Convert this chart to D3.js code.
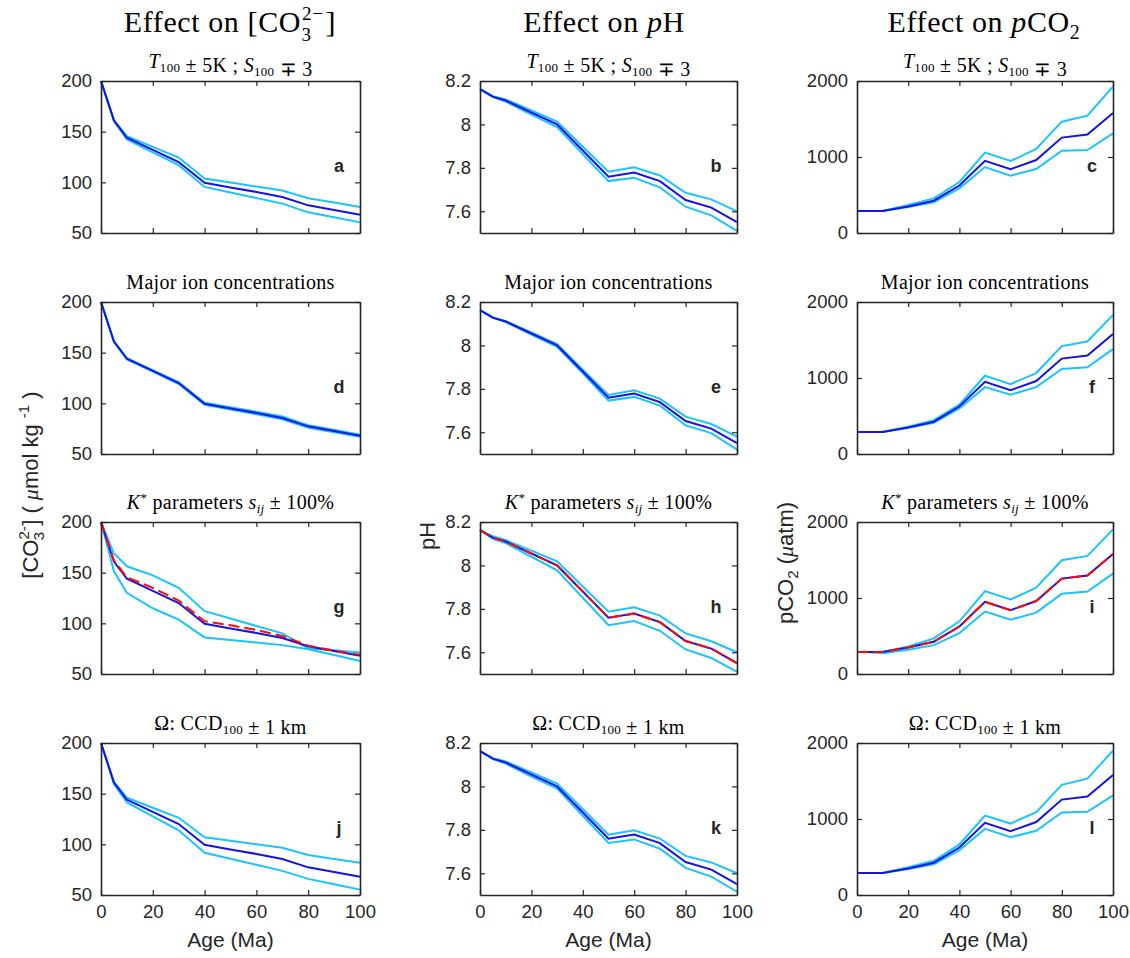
<!DOCTYPE html>
<html>
<head>
<meta charset="utf-8">
<script src="https://cdn.jsdelivr.net/npm/d3@7"></script>
<style>
  body { margin: 0; background: #fff; }
  svg text { fill: #262626; }
  .tick text { font-family: "Liberation Sans", Arial, sans-serif; font-size: 18.5px; }
  .ttl { font-family: "Liberation Serif", serif; fill: #000; }
</style>
</head>
<body>
<svg id="fig" width="1130" height="958"></svg>
<script>
"use strict";

// ages (Ma)
var ages = [0, 5, 10, 20, 30, 40, 50, 60, 70, 80, 90, 100];

// [CO3 2-] (umol/kg)
var co3Mid   = [200, 161, 144, 132, 120, 99.5, 95, 90.5, 85.6, 77.3, 72.7, 68];
var co3A_hi  = [200, 161.5, 145.6, 135, 124.5, 103.7, 99.8, 95.9, 91.9, 84.3, 80, 75.7];
var co3A_lo  = [200, 160.5, 142.3, 129.6, 116.9, 95.5, 90, 84.5, 79, 70.4, 65.5, 60.5];
var co3D_hi  = [200, 161.2, 144.6, 132.8, 121, 100.6, 96.2, 91.8, 87, 78.5, 74, 69];
var co3D_lo  = [200, 160.8, 143.4, 131.2, 119, 98.5, 93.8, 89.2, 84.2, 76, 71.4, 67];
var co3G_hi  = [200, 168.9, 156.3, 147.4, 135.1, 112, 104.7, 97.4, 90.1, 75.5, 73.4, 71.2];
var co3G_lo  = [200, 151.3, 130.1, 114.9, 103.6, 86.1, 83.6, 81, 78.5, 74.5, 68.7, 62.9];
var co3G_red = [200, 162, 145.5, 135, 122.5, 102, 98, 93.5, 87.5, 78, 73, 69];
var co3J_hi  = [200, 161.6, 146, 136.1, 126.2, 107, 103.6, 100.1, 96.7, 89.4, 85.6, 81.8];
var co3J_lo  = [200, 159.6, 141.4, 127.6, 113.9, 91.7, 85.7, 79.8, 73.8, 65.9, 60.6, 55.3];

// pH
var phMid   = [8.163, 8.128, 8.11, 8.055, 8.0, 7.88, 7.759, 7.778, 7.739, 7.652, 7.617, 7.55];
var phB_hi  = [8.163, 8.13, 8.115, 8.065, 8.013, 7.897, 7.782, 7.803, 7.765, 7.685, 7.655, 7.60];
var phB_lo  = [8.163, 8.126, 8.105, 8.045, 7.988, 7.863, 7.739, 7.754, 7.71, 7.621, 7.581, 7.51];
var phE_hi  = [8.163, 8.129, 8.112, 8.06, 8.006, 7.888, 7.772, 7.793, 7.755, 7.672, 7.638, 7.58];
var phE_lo  = [8.163, 8.127, 8.108, 8.05, 7.994, 7.872, 7.746, 7.763, 7.723, 7.632, 7.596, 7.52];
var phH_hi  = [8.163, 8.134, 8.117, 8.068, 8.019, 7.903, 7.787, 7.807, 7.769, 7.687, 7.651, 7.60];
var phH_lo  = [8.163, 8.122, 8.103, 8.04, 7.977, 7.851, 7.725, 7.744, 7.699, 7.613, 7.574, 7.51];
var phK_hi  = [8.163, 8.13, 8.115, 8.065, 8.013, 7.895, 7.778, 7.798, 7.76, 7.68, 7.65, 7.60];
var phK_lo  = [8.163, 8.126, 8.105, 8.045, 7.99, 7.865, 7.74, 7.756, 7.713, 7.625, 7.585, 7.515];

// pCO2 (uatm)
var pcoMid  = [290, 290, 290, 350, 425, 625, 950, 840, 960, 1255, 1295, 1580];
var pcoC_hi = [290, 290, 290, 368, 456, 671, 1057, 947, 1105, 1465, 1544, 1925];
var pcoC_lo = [290, 290, 290, 342, 403, 588, 868, 754, 842, 1083, 1092, 1311];
var pcoF_hi = [290, 290, 290, 360, 445, 650, 1030, 920, 1065, 1420, 1480, 1830];
var pcoF_lo = [290, 290, 290, 345, 410, 600, 880, 780, 880, 1120, 1140, 1380];
var pcoI_hi = [290, 290, 291, 362, 468, 693, 1090, 980, 1135, 1497, 1554, 1903];
var pcoI_lo = [290, 285, 274, 318, 380, 539, 821, 715, 808, 1055, 1086, 1320];
var pcoL_hi = [290, 290, 290, 365, 450, 665, 1045, 940, 1090, 1450, 1530, 1900];
var pcoL_lo = [290, 290, 290, 342, 405, 590, 870, 760, 845, 1085, 1095, 1310];

var xTicks = [0, 20, 40, 60, 80, 100];
var co3Ticks = [50, 100, 150, 200];
var phTicks = [7.6, 7.8, 8, 8.2];
var pcoTicks = [0, 1000, 2000];
var letters = ["a", "b", "c", "d", "e", "f", "g", "h", "i", "j", "k", "l"];

var colLeft = [101, 480, 857], colW = [259, 257, 256];
var rowTop = [81, 302, 522, 743], rowH = 152;

var CYAN = "#1ac4ff", BLUE = "#1414e6", RED = "#ff0a0a", AX = "#262626";

var cols = [
  { dom: [50, 200], ticks: co3Ticks, fmt: d3.format("d"),
    mid: co3Mid, sets: [[co3A_hi, co3A_lo], [co3D_hi, co3D_lo], [co3G_hi, co3G_lo], [co3J_hi, co3J_lo]], red: co3G_red },
  { dom: [7.5, 8.2], ticks: phTicks, fmt: function (d) { return String(+d.toFixed(1)); },
    mid: phMid, sets: [[phB_hi, phB_lo], [phE_hi, phE_lo], [phH_hi, phH_lo], [phK_hi, phK_lo]], red: phMid },
  { dom: [0, 2000], ticks: pcoTicks, fmt: d3.format("d"),
    mid: pcoMid, sets: [[pcoC_hi, pcoC_lo], [pcoF_hi, pcoF_lo], [pcoI_hi, pcoI_lo], [pcoL_hi, pcoL_lo]], red: pcoMid }
];

var svg = d3.select("#fig");

// subtitle builders (LaTeX-like with tspans)
function sub(t, s) { t.append("tspan").attr("font-size", "13px").attr("dy", 4).text(s); t.append("tspan").attr("dy", -4).text(""); }
var subtitles = [
  function (t) {
    t.append("tspan").attr("font-style", "italic").text("T"); sub(t, "100");
    t.append("tspan").text(" \u00b1 5K ; ");
    t.append("tspan").attr("font-style", "italic").text("S"); sub(t, "100");
    t.append("tspan").text(" \u2213 3");
  },
  function (t) { t.text("Major ion concentrations"); },
  function (t) {
    t.append("tspan").attr("font-style", "italic").text("K");
    t.append("tspan").attr("font-size", "13px").attr("dy", -7).text("*");
    t.append("tspan").attr("dy", 7).text(" parameters ");
    t.append("tspan").attr("font-style", "italic").text("s");
    t.append("tspan").attr("font-size", "13px").attr("font-style", "italic").attr("dy", 4).text("ij");
    t.append("tspan").attr("dy", -4).text(" \u00b1 100%");
  },
  function (t) {
    t.append("tspan").text("\u03a9:  CCD"); sub(t, "100");
    t.append("tspan").text(" \u00b1 1 km");
  }
];

cols.forEach(function (c, ci) {
  var x = d3.scaleLinear().domain([0, 100]).range([0, colW[ci]]);
  var y = d3.scaleLinear().domain(c.dom).range([rowH, 0]);
  var line = d3.line().x(function (d, i) { return x(ages[i]); }).y(function (d) { return y(d); });

  rowTop.forEach(function (top, ri) {
    var g = svg.append("g").attr("transform", "translate(" + colLeft[ci] + "," + top + ")");

    // series
    c.sets[ri].forEach(function (s) {
      g.append("path").datum(s).attr("d", line).attr("fill", "none")
        .attr("stroke", CYAN).attr("stroke-width", 2);
    });
    g.append("path").datum(c.mid).attr("d", line).attr("fill", "none")
      .attr("stroke", BLUE).attr("stroke-width", 2);
    if (ri === 2) {
      g.append("path").datum(c.red).attr("d", line).attr("fill", "none")
        .attr("stroke", RED).attr("stroke-width", 2).attr("stroke-dasharray", "11,5");
    }

    // axes (box with inward ticks)
    var xb = g.append("g").attr("transform", "translate(0," + rowH + ")")
      .call(d3.axisBottom(x).tickValues(xTicks).tickSizeInner(-5).tickSizeOuter(0).tickPadding(10));
    if (ri < 3) xb.selectAll("text").remove();
    g.append("g").call(d3.axisTop(x).tickValues(xTicks).tickSizeInner(-5).tickSizeOuter(0).tickFormat(""));
    g.append("g").call(d3.axisLeft(y).tickValues(c.ticks).tickFormat(c.fmt).tickSizeInner(-5).tickSizeOuter(0).tickPadding(9));
    g.append("g").attr("transform", "translate(" + colW[ci] + ",0)")
      .call(d3.axisRight(y).tickValues(c.ticks).tickSizeInner(-5).tickSizeOuter(0).tickFormat(""));
    g.selectAll(".domain").attr("stroke", AX).attr("stroke-width", 1.6);
    g.selectAll(".tick line").attr("stroke", AX).attr("stroke-width", 1.2);
    g.selectAll(".tick text").attr("fill", AX);

    // panel letter
    g.append("text").attr("x", colW[ci] - 21).attr("y", 91)
      .attr("text-anchor", "middle").attr("font-family", "Liberation Sans, Arial, sans-serif")
      .attr("font-weight", "bold").attr("font-size", "18px").attr("fill", "#000")
      .text(letters[ri * 3 + ci]);

    // subtitle
    var t = g.append("text").attr("class", "ttl").attr("x", colW[ci] / 2).attr("y", -13)
      .attr("text-anchor", "middle").attr("font-size", "20px").attr("letter-spacing", "0.3px");
    subtitles[ri](t);
  });

  // x label
  svg.append("text").attr("x", colLeft[ci] + colW[ci] / 2).attr("y", 947)
    .attr("text-anchor", "middle").attr("font-family", "Liberation Sans, Arial, sans-serif")
    .attr("font-size", "21px").text("Age (Ma)");
});

// column titles
function colTitle(cx) {
  return svg.append("text").attr("class", "ttl").attr("x", cx).attr("y", 32)
    .attr("text-anchor", "middle").attr("font-size", "30px").attr("letter-spacing", "0.6px");
}
var t1 = colTitle(230);
t1.append("tspan").text("Effect on [CO");
t1.append("tspan").attr("font-size", "19px").attr("dx", 1).attr("dy", -12).text("2\u2212");
t1.append("tspan").attr("font-size", "19px").attr("dx", -22).attr("dy", 21).text("3");
t1.append("tspan").attr("dx", 14).attr("dy", -9).text("]");
var t2 = colTitle(604);
t2.append("tspan").text("Effect on ");
t2.append("tspan").attr("font-style", "italic").text("p");
t2.append("tspan").text("H");
var t3 = colTitle(984);
t3.append("tspan").text("Effect on ");
t3.append("tspan").attr("font-style", "italic").text("p");
t3.append("tspan").text("CO");
t3.append("tspan").attr("font-size", "20px").attr("dy", 7).text("2");

// y labels
var yl1 = svg.append("text").attr("transform", "translate(38,485) rotate(-90)").attr("text-anchor", "middle")
  .attr("font-family", "Liberation Sans, Arial, sans-serif").attr("font-size", "22px");
yl1.append("tspan").text("[CO");
yl1.append("tspan").attr("font-size", "15px").attr("dy", -9).text("2-");
yl1.append("tspan").attr("font-size", "15px").attr("dx", -14).attr("dy", 15).text("3");
yl1.append("tspan").attr("dx", 6).attr("dy", -6).text("] ( ");
yl1.append("tspan").attr("font-family", "Liberation Serif, serif").attr("font-style", "italic").text("\u03bc");
yl1.append("tspan").text("mol kg  ");
yl1.append("tspan").attr("font-size", "15px").attr("dy", -9).text("-1");
yl1.append("tspan").attr("dy", 9).text("  )");

svg.append("text").attr("transform", "translate(435,536) rotate(-90)").attr("text-anchor", "middle")
  .attr("font-family", "Liberation Sans, Arial, sans-serif").attr("font-size", "22px").text("pH");

var yl3 = svg.append("text").attr("transform", "translate(793,563) rotate(-90)").attr("text-anchor", "middle")
  .attr("font-family", "Liberation Sans, Arial, sans-serif").attr("font-size", "22px");
yl3.append("tspan").text("pCO");
yl3.append("tspan").attr("font-size", "15px").attr("dy", 5).text("2");
yl3.append("tspan").attr("dy", -5).text(" (");
yl3.append("tspan").attr("font-family", "Liberation Serif, serif").attr("font-style", "italic").text("\u03bc");
yl3.append("tspan").text("atm)");
</script>
</body>
</html>
